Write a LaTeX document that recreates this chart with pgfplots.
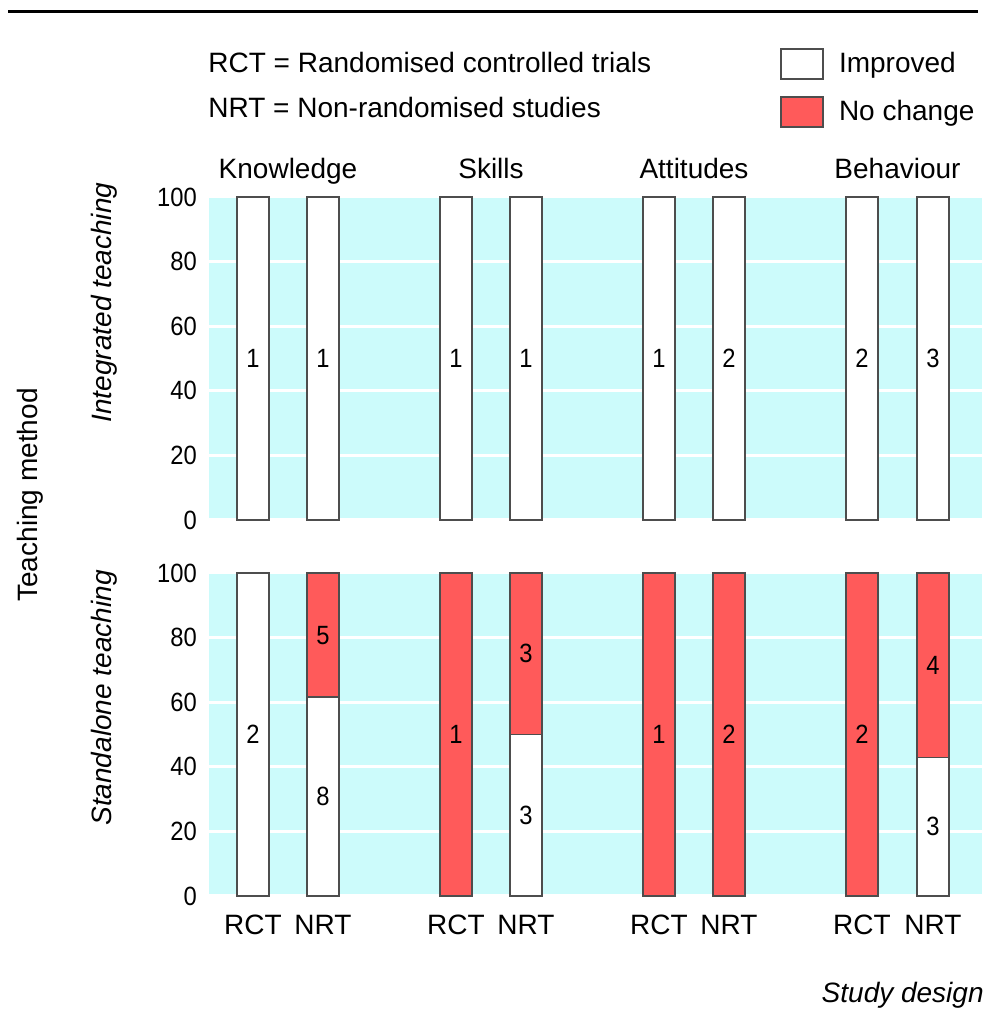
\documentclass[border=0pt]{standalone}
\usepackage{fontspec}
\setmainfont{Liberation Sans}
\newfontfamily\numfont{Liberation Sans}[FakeStretch=0.9]
\usepackage{pgfplots}
\usepackage{pgfplotstable}
\pgfplotsset{compat=1.18}
\definecolor{bgcyan}{RGB}{204,251,251}
\definecolor{barred}{RGB}{255,90,90}
\definecolor{barline}{RGB}{77,77,77}
\newcommand\fs{\fontsize{14}{17}\selectfont}
\newcommand\tfs{\numfont\fontsize{13.2}{16}\selectfont}

% integrated teaching: share improved (%) and count labels
\pgfplotstableread{
x imp ly lab
253 100 50 1
323 100 50 1
456 100 50 1
526 100 50 1
659 100 50 1
729 100 50 2
862 100 50 2
933 100 50 3
}\tabInt
% standalone teaching: total with no change (100 if any), improved share
\pgfplotstableread{
x full imp
253 0 100
323 100 61.54
456 100 0
526 100 50
659 100 0
729 100 0
862 100 0
933 100 42.86
}\tabStd
\pgfplotstableread{
x ly lab
253 50 2
323 80.77 5
323 30.77 8
456 50 1
526 75 3
526 25 3
659 50 1
729 50 2
862 50 2
933 71.43 4
933 21.43 3
}\tabStdLab

\pgfplotsset{
 panel/.style={
  scale only axis, width=386.5pt, height=161.5pt,
  xmin=209, xmax=982, ymin=0, ymax=100,
  axis background/.style={fill=bgcyan},
  axis line style={draw=none},
  major tick length=0pt,
  ytick={0,20,40,60,80,100},
  ymajorgrids, grid style={white, line width=1.5pt},
  yticklabel style={font=\tfs, xshift=-2.6pt},
  /pgf/number format/assume math mode=true,
  clip=false,
 },
 bars/.style={ybar, bar width=32, bar shift=0pt, draw=barline, line width=0.8pt},
 lbl/.style={only marks, mark=none, nodes near coords, point meta=explicit symbolic,
   every node near coord/.append style={anchor=center, font=\tfs, inner sep=0pt, text=black}},
}

\begin{document}
\begin{tikzpicture}
\path[use as bounding box] (0pt,0pt) rectangle (491pt,505pt);
\draw[line width=1.5pt] (4pt,499pt) -- (489pt,499pt);

\begin{axis}[panel, at={(104.5pt,245pt)}, anchor=south west,
  xtick={288,491,694,897.5}, xticklabels={Knowledge,Skills,Attitudes,Behaviour},
  xticklabel pos=upper,
  xticklabel style={font=\fs, anchor=base, yshift=9pt},
  legend style={at={(0.7387,1.4613)}, anchor=north west, draw=none, fill=none,
    inner sep=0pt, row sep=8pt, font=\fs,
    nodes={inner sep=0pt},
    /tikz/every odd column/.append style={column sep=7.5pt}},
  legend cell align=left]
\addlegendimage{legend image code/.code={\draw[fill=white, draw=barline, line width=0.8pt] (0pt,-7.5pt) rectangle (21pt,7.5pt);}}
\addlegendentry{Improved}
\addlegendimage{legend image code/.code={\draw[fill=barred, draw=barline, line width=0.8pt] (0pt,-7.5pt) rectangle (21pt,7.5pt);}}
\addlegendentry{No change}
\addplot[bars, fill=white, forget plot] table[x=x, y=imp] {\tabInt};
\addplot[lbl, forget plot] table[x=x, y=ly, meta=lab] {\tabInt};
\end{axis}

\begin{axis}[panel, at={(104.5pt,57pt)}, anchor=south west,
  xtick={253,323,456,526,659,729,862,933},
  xticklabels={RCT,NRT,RCT,NRT,RCT,NRT,RCT,NRT},
  xticklabel style={font=\fs, anchor=base, yshift=-19.5pt}]
\addplot[bars, fill=barred] table[x=x, y=full] {\tabStd};
\addplot[bars, fill=white] table[x=x, y=imp] {\tabStd};
\addplot[lbl] table[x=x, y=ly, meta=lab] {\tabStdLab};
\end{axis}

\node[anchor=west, font=\fs, inner sep=0pt] at (104pt,473.5pt) {RCT = Randomised controlled trials};
\node[anchor=west, font=\fs, inner sep=0pt] at (104pt,451pt) {NRT = Non-randomised studies};
\node[rotate=90, font=\fs\itshape] at (52pt,353.75pt) {Integrated teaching};
\node[rotate=90, font=\fs\itshape] at (52pt,156pt) {Standalone teaching};
\node[rotate=90, font=\fs] at (15pt,257.5pt) {Teaching method};
\node[anchor=east, font=\fs\itshape, inner sep=0pt] at (492pt,7.5pt) {Study design};
\end{tikzpicture}
\end{document}
